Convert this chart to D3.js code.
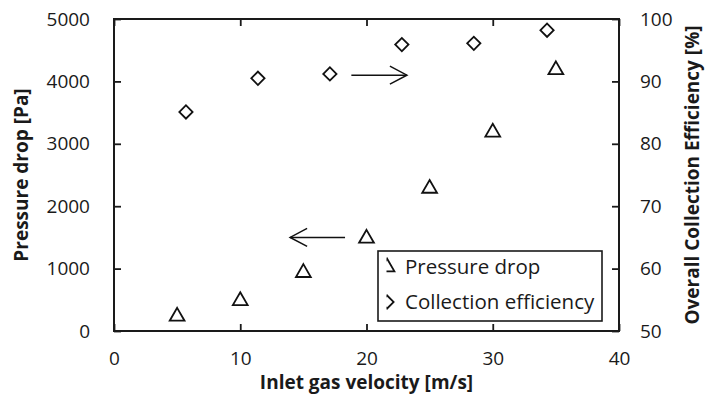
<!DOCTYPE html>
<html>
<head>
<meta charset="utf-8">
<script src="https://cdn.jsdelivr.net/npm/d3@7"></script>
<style>
  body { margin: 0; background: #fff; }
  text { font-family: "Open Sans", sans-serif; fill: #1a1a1a; }
</style>
</head>
<body>
<script>
const width = 705;
const height = 398;

// pressure drop series (triangles), left axis
const pdVelocity = [5, 10, 15, 20, 25, 30, 35];
const pdValues = [250, 500, 950, 1500, 2300, 3200, 4200];

// collection efficiency series (diamonds), right axis
const effVelocity = [5.7, 11.4, 17.1, 22.8, 28.5, 34.3];
const effValues = [85.1, 90.5, 91.2, 95.9, 96.1, 98.2];

const xTicks = [0, 10, 20, 30, 40];
const yLeftTicks = [0, 1000, 2000, 3000, 4000, 5000];
const yRightTicks = [50, 60, 70, 80, 90, 100];

const legendLabels = ["Pressure drop", "Collection efficiency"];

const margin = {top: 19, right: 86, bottom: 67, left: 114};

const svg = d3.select("body").append("svg")
    .attr("width", width)
    .attr("height", height)
    .attr("viewBox", [0, 0, width, height]);

const x = d3.scaleLinear().domain([0, 40]).range([margin.left, width - margin.right]);
const yL = d3.scaleLinear().domain([0, 5000]).range([height - margin.bottom, margin.top]);
const yR = d3.scaleLinear().domain([50, 100]).range([height - margin.bottom, margin.top]);

const x0 = x.range()[0], x1 = x.range()[1];
const y0 = yL.range()[0], y1 = yL.range()[1];
const fmt = d3.format("d");

// inner ticks on all four sides
function ticks(g, axis) {
    g.call(axis.tickFormat(fmt));
    g.select(".domain").remove();
    g.selectAll(".tick line").attr("stroke", "#1a1a1a").attr("stroke-width", 1.8);
    g.selectAll(".tick text").attr("font-size", 19).attr("fill", "#1a1a1a");
}

svg.append("g").attr("transform", `translate(0,${y0})`)
    .call(ticks, d3.axisBottom(x).tickValues(xTicks).tickSizeInner(-7).tickPadding(21));
svg.append("g").attr("transform", `translate(0,${y1})`)
    .call(g => {
        ticks(g, d3.axisTop(x).tickValues(xTicks).tickSizeInner(-7));
        g.selectAll(".tick text").remove();
    });
svg.append("g").attr("transform", `translate(${x0},0)`)
    .call(ticks, d3.axisLeft(yL).tickValues(yLeftTicks).tickSizeInner(-7).tickPadding(24));
svg.append("g").attr("transform", `translate(${x1},0)`)
    .call(ticks, d3.axisRight(yR).tickValues(yRightTicks).tickSizeInner(-7).tickPadding(21));

svg.append("rect")
    .attr("x", x0).attr("y", y1)
    .attr("width", x1 - x0).attr("height", y0 - y1)
    .attr("fill", "none").attr("stroke", "#1a1a1a").attr("stroke-width", 2);

// markers
const tri = d3.symbol().type(d3.symbolTriangle).size(95);
const dia = d3.symbol().type(d3.symbolSquare).size(88);

svg.append("g").selectAll("path")
    .data(pdVelocity.map((v, i) => [v, pdValues[i]]))
    .join("path")
    .attr("d", tri)
    .attr("transform", d => `translate(${x(d[0])},${yL(d[1]) + 1})`)
    .attr("fill", "none").attr("stroke", "#111").attr("stroke-width", 1.8);

svg.append("g").selectAll("path")
    .data(effVelocity.map((v, i) => [v, effValues[i]]))
    .join("path")
    .attr("d", dia)
    .attr("transform", d => `translate(${x(d[0])},${yR(d[1])}) rotate(45)`)
    .attr("fill", "none").attr("stroke", "#111").attr("stroke-width", 1.8);

// arrows pointing at the matching axis
function arrow(xa, xb, yy) {
    const dir = Math.sign(xb - xa);
    const g = svg.append("g").attr("stroke", "#111").attr("stroke-width", 1.5).attr("fill", "none");
    g.append("line").attr("x1", xa).attr("x2", xb).attr("y1", yy).attr("y2", yy);
    g.append("path").attr("d", `M${xb - dir * 17},${yy - 9}L${xb},${yy}L${xb - dir * 17},${yy + 9}`);
}
arrow(x(18.8), x(23.2), yR(91));
arrow(x(18.3), x(13.95), yL(1500));

// legend
const lg = svg.append("g");
lg.append("rect")
    .attr("x", 378).attr("y", 251).attr("width", 224).attr("height", 70)
    .attr("fill", "#fff").attr("stroke", "#1a1a1a").attr("stroke-width", 1.6);

svg.append("clipPath").attr("id", "legclip")
    .append("rect").attr("x", 386.5).attr("y", 251).attr("width", 20).attr("height", 70);

const lgMarks = lg.append("g").attr("clip-path", "url(#legclip)");
lgMarks.append("path").attr("d", tri)
    .attr("transform", "translate(387,267)")
    .attr("fill", "none").attr("stroke", "#111").attr("stroke-width", 1.8);
lgMarks.append("path").attr("d", dia)
    .attr("transform", "translate(387,302) rotate(45)")
    .attr("fill", "none").attr("stroke", "#111").attr("stroke-width", 1.8);

lg.selectAll("text.lab")
    .data(legendLabels)
    .join("text")
    .attr("class", "lab")
    .attr("x", 405)
    .attr("y", (d, i) => 274 + i * 35)
    .attr("font-size", 20.5)
    .text(d => d);

// axis titles
svg.append("text")
    .attr("x", (x0 + x1) / 2).attr("y", 389)
    .attr("text-anchor", "middle")
    .attr("font-size", 19).attr("font-weight", "bold")
    .text("Inlet gas velocity [m/s]");

svg.append("text")
    .attr("transform", `translate(28,${(y0 + y1) / 2}) rotate(-90)`)
    .attr("text-anchor", "middle")
    .attr("font-size", 19).attr("font-weight", "bold")
    .text("Pressure drop [Pa]");

svg.append("text")
    .attr("transform", `translate(699,${(y0 + y1) / 2}) rotate(-90)`)
    .attr("text-anchor", "middle")
    .attr("font-size", 19).attr("font-weight", "bold")
    .text("Overall Collection Efficiency [%]");
</script>
</body>
</html>
